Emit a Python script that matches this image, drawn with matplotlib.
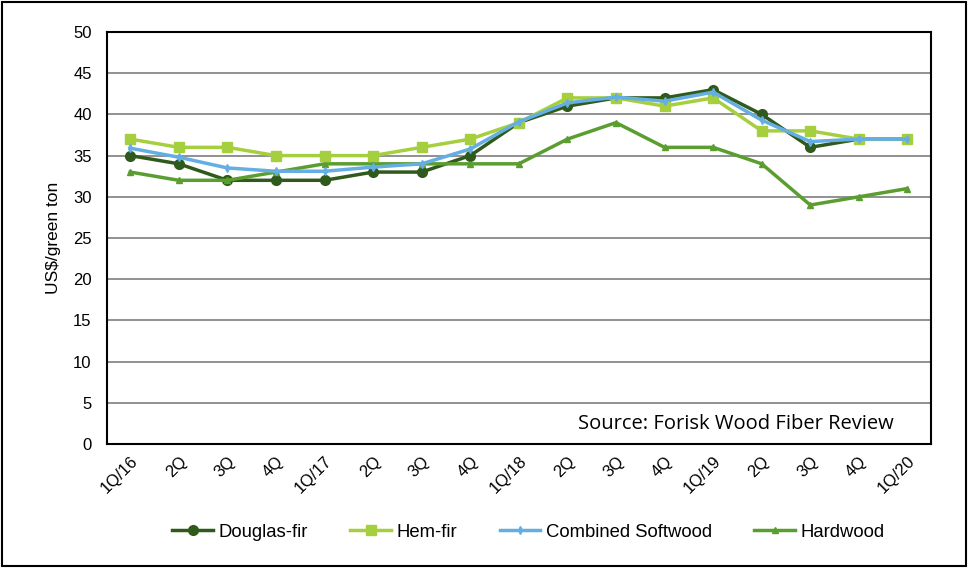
import matplotlib.pyplot as plt
import numpy as np

# Datos
quarters = ['1Q/16', '2Q', '3Q', '4Q', '1Q/17', '2Q', '3Q', '4Q', '1Q/18',
            '2Q', '3Q', '4Q', '1Q/19', '2Q', '3Q', '4Q', '1Q/20']
douglas_fir = [35, 34, 32, 32, 32, 33, 33, 35, 39, 41, 42, 42, 43, 40, 36, 37, 37]
hem_fir = [37, 36, 36, 35, 35, 35, 36, 37, 39, 42, 42, 41, 42, 38, 38, 37, 37]
combined = [35.9, 34.8, 33.5, 33.1, 33.1, 33.6, 34.0, 35.8, 39.1, 41.4, 42.1,
            41.6, 42.7, 39.3, 36.7, 37, 37]
hardwood = [33, 32, 32, 33, 34, 34, 34, 34, 34, 37, 39, 36, 36, 34, 29, 30, 31]

plt.rcParams['font.family'] = ['Liberation Sans', 'DejaVu Sans']

fig = plt.figure(figsize=(9.68, 5.68), dpi=100)
ax = fig.add_axes([0.1105, 0.2183, 0.851, 0.7254])
x = np.arange(len(quarters))

ax.plot(x, douglas_fir, color='#2f5a1c', lw=2.5, marker='o', ms=7, label='Douglas-fir', zorder=3)
ax.plot(x, hem_fir, color='#a6cf3f', lw=2.5, marker='s', ms=7, label='Hem-fir', zorder=4)
ax.plot(x, combined, color='#64aee3', lw=2.5, marker='d', ms=4, label='Combined Softwood', zorder=5)
ax.plot(x, hardwood, color='#5a9e2f', lw=2.5, marker='^', ms=5, label='Hardwood', zorder=3)

ax.set_xlim(-0.48, len(quarters) - 0.52)
ax.set_ylim(0, 50)
ax.set_yticks(range(0, 51, 5))
ax.set_xticks(x)
ax.set_xticklabels(quarters, rotation=45, ha='right', rotation_mode='anchor', fontsize=12)
ax.tick_params(axis='y', labelsize=12, length=0, pad=11)
ax.tick_params(axis='x', length=0, pad=7)
ax.yaxis.grid(True, color='#888888', lw=1.3)
ax.set_axisbelow(True)
for s in ax.spines.values():
    s.set_linewidth(1.5)
    s.set_color('black')

ax.set_ylabel('US$/green ton', fontsize=12.5, labelpad=9)
ax.text(0.955, 0.025, 'Source: Forisk Wood Fiber Review', transform=ax.transAxes,
        ha='right', va='bottom', fontsize=14.5, family=['Open Sans', 'DejaVu Sans'])

fig.legend(loc='center', bbox_to_anchor=(0.546, 0.063), ncol=4, frameon=False,
           handlelength=2.2, columnspacing=2.3, handletextpad=0.3,
           prop={'family': ['Liberation Sans Narrow', 'Liberation Sans'], 'size': 13.3})

# borde exterior
fig.patches.append(plt.Rectangle((0.002, 0.003), 0.996, 0.994, transform=fig.transFigure,
                                 fill=False, lw=1.5, ec='black'))

plt.savefig('out.png', dpi=100)
